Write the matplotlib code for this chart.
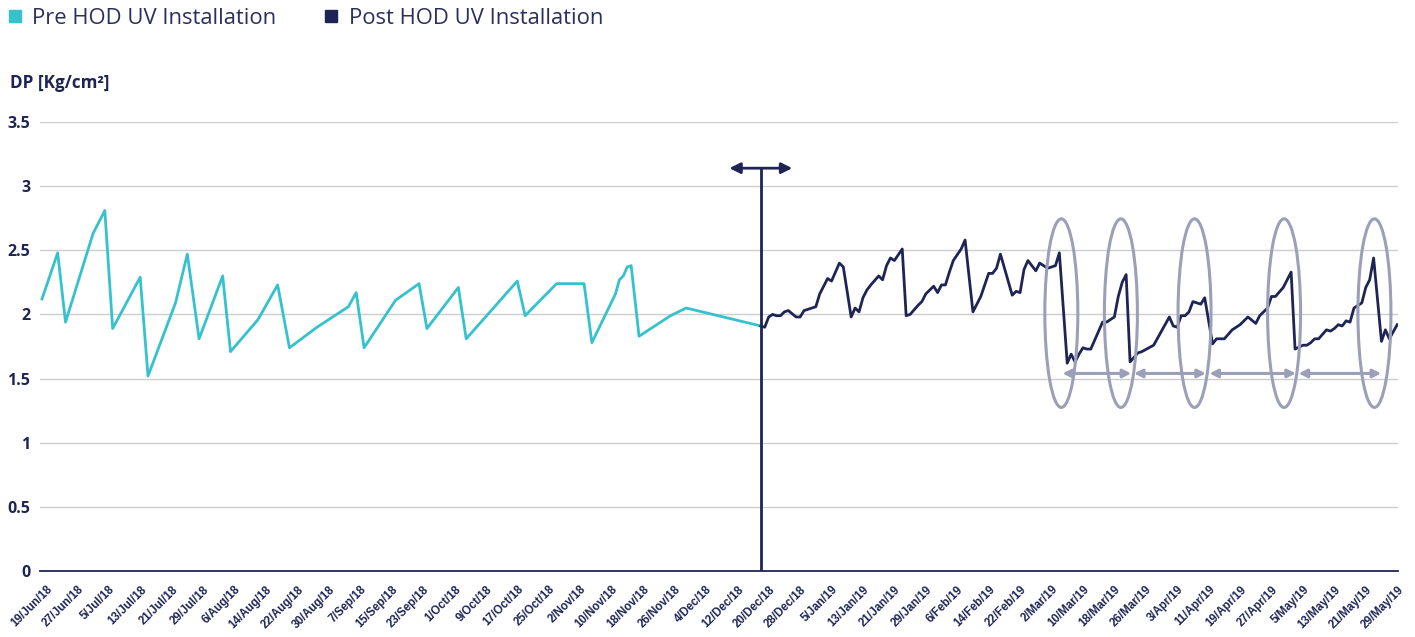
import pandas as pd
import matplotlib.pyplot as plt
import matplotlib.dates as mdates
from matplotlib.lines import Line2D
from matplotlib.patches import Ellipse

# Pre HOD UV installation readings
pre_dates = ['2018-06-18', '2018-06-22', '2018-06-24', '2018-07-01', '2018-07-04', '2018-07-06',
             '2018-07-13', '2018-07-15', '2018-07-22', '2018-07-25', '2018-07-28', '2018-08-03',
             '2018-08-05', '2018-08-12', '2018-08-17', '2018-08-20', '2018-08-27', '2018-09-04',
             '2018-09-06', '2018-09-08', '2018-09-16', '2018-09-22', '2018-09-24', '2018-10-02',
             '2018-10-04', '2018-10-17', '2018-10-19', '2018-10-27', '2018-11-03', '2018-11-05',
             '2018-11-11', '2018-11-12', '2018-11-13', '2018-11-14', '2018-11-15', '2018-11-17',
             '2018-11-25', '2018-11-29', '2018-12-18']
pre_dp = [2.12, 2.48, 1.94, 2.63, 2.81, 1.89,
          2.29, 1.52, 2.09, 2.47, 1.81, 2.30,
          1.71, 1.96, 2.23, 1.74, 1.90, 2.06,
          2.17, 1.74, 2.11, 2.24, 1.89, 2.21,
          1.81, 2.26, 1.99, 2.24, 2.24, 1.78,
          2.16, 2.27, 2.30, 2.37, 2.38, 1.83,
          1.99, 2.05, 1.91]

# Post HOD UV installation readings
post_dates = ['2018-12-18', '2018-12-19', '2018-12-20', '2018-12-21', '2018-12-22', '2018-12-23',
              '2018-12-24', '2018-12-25', '2018-12-27', '2018-12-28', '2018-12-29', '2018-12-30',
              '2019-01-01', '2019-01-02', '2019-01-04', '2019-01-05', '2019-01-07', '2019-01-08',
              '2019-01-10', '2019-01-11', '2019-01-12', '2019-01-13', '2019-01-14', '2019-01-15',
              '2019-01-17', '2019-01-18', '2019-01-19', '2019-01-20', '2019-01-21', '2019-01-23',
              '2019-01-24', '2019-01-25', '2019-01-27', '2019-01-28', '2019-01-29', '2019-01-31',
              '2019-02-01', '2019-02-02', '2019-02-03', '2019-02-04', '2019-02-05', '2019-02-07',
              '2019-02-08', '2019-02-10', '2019-02-12', '2019-02-14', '2019-02-15', '2019-02-16',
              '2019-02-17', '2019-02-20', '2019-02-21', '2019-02-22', '2019-02-23', '2019-02-24',
              '2019-02-26', '2019-02-27', '2019-03-01', '2019-03-02', '2019-03-03', '2019-03-04',
              '2019-03-06', '2019-03-07', '2019-03-08', '2019-03-09', '2019-03-10', '2019-03-11',
              '2019-03-12', '2019-03-13', '2019-03-15', '2019-03-16', '2019-03-18', '2019-03-19',
              '2019-03-20', '2019-03-21', '2019-03-22', '2019-03-24', '2019-03-25', '2019-03-28',
              '2019-03-30', '2019-04-01', '2019-04-02', '2019-04-03', '2019-04-04', '2019-04-05',
              '2019-04-06', '2019-04-07', '2019-04-08', '2019-04-09', '2019-04-10', '2019-04-12',
              '2019-04-13', '2019-04-15', '2019-04-17', '2019-04-19', '2019-04-21', '2019-04-23',
              '2019-04-24', '2019-04-26', '2019-04-27', '2019-04-28', '2019-04-30', '2019-05-02',
              '2019-05-03', '2019-05-05', '2019-05-06', '2019-05-07', '2019-05-08', '2019-05-09',
              '2019-05-11', '2019-05-12', '2019-05-13', '2019-05-14', '2019-05-15', '2019-05-16',
              '2019-05-17', '2019-05-18', '2019-05-20', '2019-05-21', '2019-05-22', '2019-05-23',
              '2019-05-25', '2019-05-26', '2019-05-27', '2019-05-29']
post_dp = [1.91, 1.90, 1.98, 2.00, 1.99, 1.99,
           2.02, 2.03, 1.98, 1.98, 2.03, 2.04,
           2.06, 2.16, 2.28, 2.26, 2.40, 2.37,
           1.98, 2.05, 2.02, 2.13, 2.19, 2.23,
           2.30, 2.27, 2.38, 2.44, 2.42, 2.51,
           1.99, 2.00, 2.07, 2.10, 2.16, 2.22,
           2.17, 2.23, 2.23, 2.33, 2.42, 2.51,
           2.58, 2.02, 2.14, 2.32, 2.32, 2.36,
           2.47, 2.15, 2.18, 2.17, 2.35, 2.42,
           2.34, 2.40, 2.36, 2.37, 2.38, 2.48,
           1.62, 1.69, 1.63, 1.69, 1.74, 1.73,
           1.73, 1.80, 1.94, 1.94, 1.98, 2.14,
           2.25, 2.31, 1.63, 1.70, 1.71, 1.76,
           1.87, 1.98, 1.91, 1.90, 1.99, 1.99,
           2.02, 2.10, 2.09, 2.08, 2.13, 1.77,
           1.81, 1.81, 1.88, 1.92, 1.98, 1.93,
           1.99, 2.05, 2.14, 2.14, 2.21, 2.33,
           1.73, 1.76, 1.76, 1.78, 1.81, 1.81,
           1.88, 1.87, 1.89, 1.92, 1.91, 1.95,
           1.94, 2.05, 2.09, 2.21, 2.27, 2.44,
           1.79, 1.88, 1.81, 1.92]

install_date = '2018-12-18'
cycle_peaks = ['2019-03-04 12:00', '2019-03-19 16:00', '2019-04-07 10:00', '2019-04-30 05:00', '2019-05-23 05:00']
cycle_spans = [('2019-03-04 19:00', '2019-03-22 07:00'), ('2019-03-23 00:00', '2019-04-10 07:00'),
               ('2019-04-11 05:00', '2019-05-03 05:00'), ('2019-05-03 22:00', '2019-05-24 22:00')]

TEAL = '#36c2cd'
NAVY = '#1e2555'
OVAL = '#9c9fb8'
GRID = '#cdcdcd'

pre_x = pd.to_datetime(pre_dates)
post_x = pd.to_datetime(post_dates)

fig = plt.figure(figsize=(14.15, 6.37), dpi=100)
ax = fig.add_axes([40 / 1415, 1 - 571 / 637, 1358 / 1415, 449 / 637])

ax.plot(pre_x, pre_dp, color=TEAL, lw=2.0, zorder=3)
ax.plot(post_x, post_dp, color=NAVY, lw=2.0, zorder=3)

# installation marker
inst = pd.Timestamp(install_date)
ax.plot([inst, inst], [0, 3.14], color=NAVY, lw=2.0, zorder=4)
ax.annotate('', xy=(inst - pd.Timedelta(days=8), 3.14), xytext=(inst + pd.Timedelta(days=8), 3.14),
            arrowprops=dict(arrowstyle='<|-|>', color=NAVY, lw=2.0, mutation_scale=16,
                            shrinkA=0, shrinkB=0), zorder=4)

# cleaning cycle ovals and spans
for p in cycle_peaks:
    c = mdates.date2num(pd.Timestamp(p))
    ax.add_patch(Ellipse((c, 2.01), 8.4, 1.47, fill=False, edgecolor=OVAL, lw=2.2, zorder=5))
for a, b in cycle_spans:
    ax.annotate('', xy=(pd.Timestamp(a), 1.54), xytext=(pd.Timestamp(b), 1.54),
                arrowprops=dict(arrowstyle='<|-|>', color=OVAL, lw=2.2, mutation_scale=12,
                                shrinkA=0, shrinkB=0), zorder=5)

ax.set_ylim(0, 3.5)
ax.set_yticks([0, 0.5, 1, 1.5, 2, 2.5, 3, 3.5])
ax.set_yticklabels(['0', '0.5', '1', '1.5', '2', '2.5', '3', '3.5'])
ax.set_xlim(mdates.date2num(pd.Timestamp('2018-06-17 12:00')), mdates.date2num(pd.Timestamp('2019-05-29 05:00')))
ticks = pd.date_range('2018-06-19', '2019-05-29', freq='8D')
ax.set_xticks(ticks)
ax.set_xticklabels([f"{t.day}/{t.strftime('%b/%y')}" for t in ticks], rotation=45, ha='right',
                   rotation_mode='anchor', fontsize=8.3, fontweight='bold', color=NAVY,
                   family='Liberation Sans')
ax.tick_params(axis='x', length=0, pad=9)
ax.tick_params(axis='y', length=0, pad=7, labelsize=11.5, labelcolor=NAVY)
for lab in ax.get_yticklabels():
    lab.set_fontweight('bold')
    lab.set_family('Open Sans')

ax.grid(axis='y', color=GRID, lw=1.0)
ax.set_axisbelow(True)
for s in ['top', 'right', 'left']:
    ax.spines[s].set_visible(False)
ax.spines['bottom'].set_color(NAVY)
ax.spines['bottom'].set_linewidth(1.3)
ax.spines['bottom'].set_zorder(2)

fig.text(10 / 1415, 1 - 83 / 637, 'DP [Kg/cm²]', fontsize=12.3, fontweight='bold', color=NAVY,
         family='Open Sans', va='center', ha='left')

handles = [Line2D([], [], marker='s', linestyle='', color=TEAL, markersize=9),
           Line2D([], [], marker='s', linestyle='', color=NAVY, markersize=9)]
leg = fig.legend(handles, ['Pre HOD UV Installation', 'Post HOD UV Installation'], ncol=2,
                 loc='center left', bbox_to_anchor=(-0.002, 1 - 18 / 637), frameon=False,
                 prop={'family': 'Open Sans', 'size': 15.8}, handletextpad=0.3, columnspacing=2.0,
                 handlelength=1.0, borderaxespad=0, borderpad=0.3)
for t in leg.get_texts():
    t.set_color('#2b2f5c')

plt.savefig('out.png', dpi=100)
